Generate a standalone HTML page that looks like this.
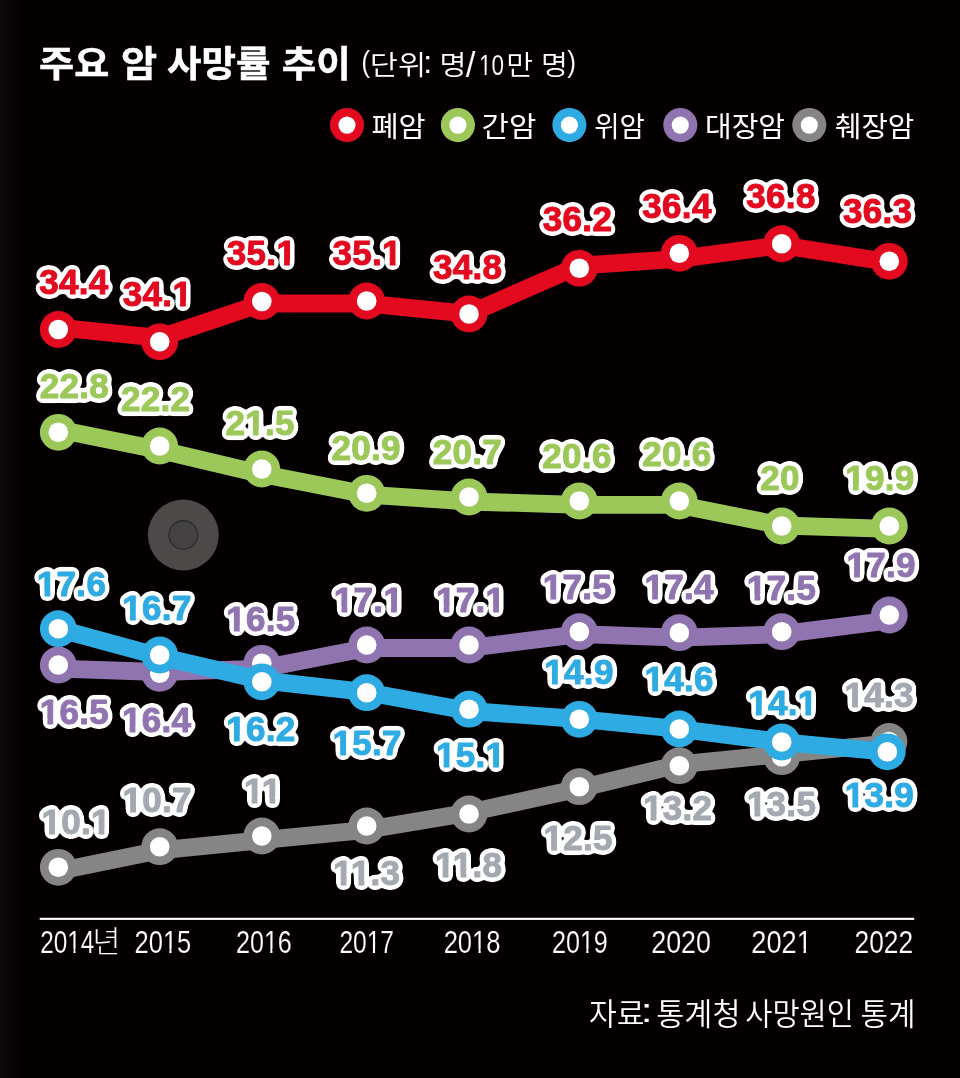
<!DOCTYPE html>
<html lang="ko"><head><meta charset="utf-8"><title>주요 암 사망률 추이</title>
<style>html,body{margin:0;padding:0;background:#040001}svg{display:block}text{white-space:pre}</style></head>
<body>
<svg width="960" height="1078" viewBox="0 0 960 1078">
<defs><linearGradient id="lb" x1="0" x2="1" y1="0" y2="0"><stop offset="0" stop-color="#0c0a0a"/><stop offset="1" stop-color="#040001"/></linearGradient></defs>
<defs><mask id="ft" maskUnits="userSpaceOnUse" x="0" y="0" width="960" height="1078"><rect width="960" height="1078" fill="#fff"/><g fill="#000"><rect x="173.49" y="300.93" width="6.56" height="6.77"/><rect x="185.85" y="300.93" width="6.12" height="6.77"/><rect x="277.49" y="260.43" width="6.56" height="6.77"/><rect x="289.85" y="260.43" width="6.12" height="6.77"/><rect x="383.19" y="260.43" width="6.56" height="6.77"/><rect x="395.55" y="260.43" width="6.12" height="6.77"/><rect x="246.29" y="429.63" width="6.56" height="6.77"/><rect x="258.66" y="429.63" width="6.12" height="6.77"/><rect x="846.24" y="485.43" width="6.56" height="6.77"/><rect x="858.61" y="485.43" width="6.12" height="6.77"/><rect x="37.94" y="590.93" width="6.56" height="6.77"/><rect x="50.31" y="590.93" width="6.12" height="6.77"/><rect x="123.44" y="614.83" width="6.56" height="6.77"/><rect x="135.81" y="614.83" width="6.12" height="6.77"/><rect x="227.34" y="625.63" width="6.56" height="6.77"/><rect x="239.71" y="625.63" width="6.12" height="6.77"/><rect x="40.84" y="718.83" width="6.56" height="6.77"/><rect x="53.21" y="718.83" width="6.12" height="6.77"/><rect x="123.04" y="727.13" width="6.56" height="6.77"/><rect x="135.41" y="727.13" width="6.12" height="6.77"/><rect x="227.34" y="735.53" width="6.56" height="6.77"/><rect x="239.71" y="735.53" width="6.12" height="6.77"/><rect x="334.94" y="606.63" width="6.56" height="6.77"/><rect x="347.31" y="606.63" width="6.12" height="6.77"/><rect x="384.49" y="606.63" width="6.56" height="6.77"/><rect x="396.85" y="606.63" width="6.12" height="6.77"/><rect x="437.04" y="606.63" width="6.56" height="6.77"/><rect x="449.41" y="606.63" width="6.12" height="6.77"/><rect x="486.59" y="606.63" width="6.56" height="6.77"/><rect x="498.95" y="606.63" width="6.12" height="6.77"/><rect x="543.84" y="593.83" width="6.56" height="6.77"/><rect x="556.21" y="593.83" width="6.12" height="6.77"/><rect x="545.44" y="678.83" width="6.56" height="6.77"/><rect x="557.81" y="678.83" width="6.12" height="6.77"/><rect x="333.64" y="750.43" width="6.56" height="6.77"/><rect x="346.01" y="750.43" width="6.12" height="6.77"/><rect x="437.04" y="762.03" width="6.56" height="6.77"/><rect x="449.41" y="762.03" width="6.12" height="6.77"/><rect x="486.59" y="762.03" width="6.56" height="6.77"/><rect x="498.95" y="762.03" width="6.12" height="6.77"/><rect x="645.54" y="593.63" width="6.56" height="6.77"/><rect x="657.91" y="593.63" width="6.12" height="6.77"/><rect x="747.94" y="594.63" width="6.56" height="6.77"/><rect x="760.31" y="594.63" width="6.12" height="6.77"/><rect x="847.54" y="572.23" width="6.56" height="6.77"/><rect x="859.91" y="572.23" width="6.12" height="6.77"/><rect x="645.64" y="685.53" width="6.56" height="6.77"/><rect x="658.01" y="685.53" width="6.12" height="6.77"/><rect x="749.24" y="710.23" width="6.56" height="6.77"/><rect x="761.61" y="710.23" width="6.12" height="6.77"/><rect x="798.79" y="710.23" width="6.56" height="6.77"/><rect x="811.15" y="710.23" width="6.12" height="6.77"/><rect x="845.54" y="701.93" width="6.56" height="6.77"/><rect x="857.91" y="701.93" width="6.12" height="6.77"/><rect x="845.84" y="802.03" width="6.56" height="6.77"/><rect x="858.21" y="802.03" width="6.12" height="6.77"/><rect x="644.04" y="815.23" width="6.56" height="6.77"/><rect x="656.41" y="815.23" width="6.12" height="6.77"/><rect x="747.94" y="810.63" width="6.56" height="6.77"/><rect x="760.31" y="810.63" width="6.12" height="6.77"/><rect x="42.54" y="828.53" width="6.56" height="6.77"/><rect x="54.91" y="828.53" width="6.12" height="6.77"/><rect x="92.09" y="828.53" width="6.56" height="6.77"/><rect x="104.45" y="828.53" width="6.12" height="6.77"/><rect x="123.64" y="806.53" width="6.56" height="6.77"/><rect x="136.01" y="806.53" width="6.12" height="6.77"/><rect x="245.10" y="797.53" width="6.56" height="6.77"/><rect x="257.47" y="797.53" width="6.12" height="6.77"/><rect x="262.93" y="797.53" width="6.56" height="6.77"/><rect x="275.29" y="797.53" width="6.12" height="6.77"/><rect x="334.11" y="880.23" width="6.56" height="6.77"/><rect x="346.48" y="880.23" width="6.12" height="6.77"/><rect x="351.94" y="880.23" width="6.56" height="6.77"/><rect x="364.30" y="880.23" width="6.12" height="6.77"/><rect x="436.11" y="872.43" width="6.56" height="6.77"/><rect x="448.48" y="872.43" width="6.12" height="6.77"/><rect x="453.94" y="872.43" width="6.56" height="6.77"/><rect x="466.30" y="872.43" width="6.12" height="6.77"/><rect x="544.64" y="844.53" width="6.56" height="6.77"/><rect x="557.01" y="844.53" width="6.12" height="6.77"/><rect x="479.50" y="71.38" width="5.14" height="5.55"/><rect x="486.64" y="71.38" width="4.97" height="5.55"/><rect x="67.95" y="948.80" width="5.47" height="5.62"/><rect x="75.57" y="948.80" width="5.28" height="5.62"/><rect x="163.64" y="948.80" width="5.67" height="5.62"/><rect x="171.57" y="948.80" width="5.47" height="5.62"/><rect x="264.61" y="948.80" width="5.61" height="5.62"/><rect x="272.44" y="948.80" width="5.41" height="5.62"/><rect x="367.38" y="948.80" width="5.51" height="5.62"/><rect x="375.06" y="948.80" width="5.32" height="5.62"/><rect x="472.79" y="948.80" width="5.68" height="5.62"/><rect x="480.73" y="948.80" width="5.48" height="5.62"/><rect x="580.61" y="948.80" width="5.61" height="5.62"/><rect x="588.44" y="948.80" width="5.41" height="5.62"/><rect x="797.54" y="948.80" width="5.97" height="5.62"/><rect x="805.92" y="948.80" width="5.76" height="5.62"/></g></mask></defs>
<rect width="960" height="1078" fill="#040001"/><rect width="24" height="1078" fill="url(#lb)"/>
<circle cx="183.3" cy="535" r="35.5" fill="#4c4a49"/><circle cx="183.3" cy="535" r="14.4" fill="#434142" stroke="#2b292a" stroke-width="1.2"/>
<rect x="39.7" y="917.8" width="874.5" height="2.1" fill="#fff"/>
<g><polyline fill="none" stroke="#e3091f" stroke-width="17.8" stroke-linejoin="round" stroke-linecap="round" points="58.3,327.5 159.7,337.8 261.8,303.5 366.7,303.5 469.0,313.8 579.3,265.7 679.3,258.9 781.7,245.2 889.3,262.3"/>
<circle cx="58.3" cy="329.5" r="18.4" fill="#e3091f"/><circle cx="58.3" cy="329.5" r="9.8" fill="#fff"/>
<circle cx="159.7" cy="341.8" r="18.4" fill="#e3091f"/><circle cx="159.7" cy="341.8" r="9.8" fill="#fff"/>
<circle cx="261.8" cy="301.5" r="18.4" fill="#e3091f"/><circle cx="261.8" cy="301.5" r="9.8" fill="#fff"/>
<circle cx="366.7" cy="301.0" r="18.4" fill="#e3091f"/><circle cx="366.7" cy="301.0" r="9.8" fill="#fff"/>
<circle cx="469.0" cy="314.0" r="18.4" fill="#e3091f"/><circle cx="469.0" cy="314.0" r="9.8" fill="#fff"/>
<circle cx="579.3" cy="268.3" r="18.4" fill="#e3091f"/><circle cx="579.3" cy="268.3" r="9.8" fill="#fff"/>
<circle cx="679.3" cy="253.3" r="18.4" fill="#e3091f"/><circle cx="679.3" cy="253.3" r="9.8" fill="#fff"/>
<circle cx="781.7" cy="243.7" r="18.4" fill="#e3091f"/><circle cx="781.7" cy="243.7" r="9.8" fill="#fff"/>
<circle cx="889.3" cy="261.3" r="18.4" fill="#e3091f"/><circle cx="889.3" cy="261.3" r="9.8" fill="#fff"/>
</g>
<g><polyline fill="none" stroke="#9cc85a" stroke-width="17.8" stroke-linejoin="round" stroke-linecap="round" points="58.3,429.5 159.7,450.0 261.8,474.1 366.7,494.6 469.0,501.5 579.3,504.9 679.3,504.9 781.7,525.5 889.3,528.9"/>
<circle cx="58.3" cy="432.3" r="18.4" fill="#9cc85a"/><circle cx="58.3" cy="432.3" r="9.8" fill="#fff"/>
<circle cx="159.7" cy="446.0" r="18.4" fill="#9cc85a"/><circle cx="159.7" cy="446.0" r="9.8" fill="#fff"/>
<circle cx="261.8" cy="469.0" r="18.4" fill="#9cc85a"/><circle cx="261.8" cy="469.0" r="9.8" fill="#fff"/>
<circle cx="366.7" cy="493.3" r="18.4" fill="#9cc85a"/><circle cx="366.7" cy="493.3" r="9.8" fill="#fff"/>
<circle cx="469.0" cy="497.0" r="18.4" fill="#9cc85a"/><circle cx="469.0" cy="497.0" r="9.8" fill="#fff"/>
<circle cx="579.3" cy="501.0" r="18.4" fill="#9cc85a"/><circle cx="579.3" cy="501.0" r="9.8" fill="#fff"/>
<circle cx="679.3" cy="501.0" r="18.4" fill="#9cc85a"/><circle cx="679.3" cy="501.0" r="9.8" fill="#fff"/>
<circle cx="781.7" cy="526.0" r="18.4" fill="#9cc85a"/><circle cx="781.7" cy="526.0" r="9.8" fill="#fff"/>
<circle cx="889.3" cy="526.0" r="18.4" fill="#9cc85a"/><circle cx="889.3" cy="526.0" r="9.8" fill="#fff"/>
</g>
<g><polyline fill="none" stroke="#858585" stroke-width="17.8" stroke-linejoin="round" stroke-linecap="round" points="58.3,871.1 159.7,850.4 261.8,840.1 366.7,829.8 469.0,812.6 579.3,788.5 679.3,764.4 781.7,754.1 889.0,743.4"/>
<circle cx="58.3" cy="867.3" r="18.4" fill="#858585"/><circle cx="58.3" cy="867.3" r="9.8" fill="#fff"/>
<circle cx="159.7" cy="846.7" r="18.4" fill="#858585"/><circle cx="159.7" cy="846.7" r="9.8" fill="#fff"/>
<circle cx="261.8" cy="836.0" r="18.4" fill="#858585"/><circle cx="261.8" cy="836.0" r="9.8" fill="#fff"/>
<circle cx="366.7" cy="826.0" r="18.4" fill="#858585"/><circle cx="366.7" cy="826.0" r="9.8" fill="#fff"/>
<circle cx="469.0" cy="814.0" r="18.4" fill="#858585"/><circle cx="469.0" cy="814.0" r="9.8" fill="#fff"/>
<circle cx="579.3" cy="786.7" r="18.4" fill="#858585"/><circle cx="579.3" cy="786.7" r="9.8" fill="#fff"/>
<circle cx="679.3" cy="765.7" r="18.4" fill="#858585"/><circle cx="679.3" cy="765.7" r="9.8" fill="#fff"/>
<circle cx="781.7" cy="756.7" r="18.4" fill="#858585"/><circle cx="781.7" cy="756.7" r="9.8" fill="#fff"/>
<circle cx="889.0" cy="741.5" r="18.4" fill="#858585"/><circle cx="889.0" cy="741.5" r="9.8" fill="#fff"/>
</g>
<g><polyline fill="none" stroke="#9074b0" stroke-width="17.8" stroke-linejoin="round" stroke-linecap="round" points="58.3,668.6 159.7,672.0 261.8,668.6 366.7,648.0 469.0,648.0 579.3,634.2 679.3,637.7 781.7,634.2 889.3,620.5"/>
<circle cx="58.3" cy="665.0" r="18.4" fill="#9074b0"/><circle cx="58.3" cy="665.0" r="9.8" fill="#fff"/>
<circle cx="159.7" cy="673.3" r="18.4" fill="#9074b0"/><circle cx="159.7" cy="673.3" r="9.8" fill="#fff"/>
<circle cx="261.8" cy="663.3" r="18.4" fill="#9074b0"/><circle cx="261.8" cy="663.3" r="9.8" fill="#fff"/>
<circle cx="366.7" cy="645.0" r="18.4" fill="#9074b0"/><circle cx="366.7" cy="645.0" r="9.8" fill="#fff"/>
<circle cx="469.0" cy="645.0" r="18.4" fill="#9074b0"/><circle cx="469.0" cy="645.0" r="9.8" fill="#fff"/>
<circle cx="579.3" cy="631.7" r="18.4" fill="#9074b0"/><circle cx="579.3" cy="631.7" r="9.8" fill="#fff"/>
<circle cx="679.3" cy="632.7" r="18.4" fill="#9074b0"/><circle cx="679.3" cy="632.7" r="9.8" fill="#fff"/>
<circle cx="781.7" cy="631.7" r="18.4" fill="#9074b0"/><circle cx="781.7" cy="631.7" r="9.8" fill="#fff"/>
<circle cx="889.3" cy="615.0" r="18.4" fill="#9074b0"/><circle cx="889.3" cy="615.0" r="9.8" fill="#fff"/>
</g>
<g><polyline fill="none" stroke="#2eabe2" stroke-width="17.8" stroke-linejoin="round" stroke-linecap="round" points="58.3,628.8 159.7,656.5 261.8,680.3 366.7,692.2 469.0,711.0 579.3,719.0 679.3,729.0 781.7,742.0 887.3,752.0"/>
<circle cx="58.3" cy="628.7" r="18.4" fill="#2eabe2"/><circle cx="58.3" cy="628.7" r="9.8" fill="#fff"/>
<circle cx="159.7" cy="655.0" r="18.4" fill="#2eabe2"/><circle cx="159.7" cy="655.0" r="9.8" fill="#fff"/>
<circle cx="261.8" cy="681.8" r="18.4" fill="#2eabe2"/><circle cx="261.8" cy="681.8" r="9.8" fill="#fff"/>
<circle cx="366.7" cy="692.7" r="18.4" fill="#2eabe2"/><circle cx="366.7" cy="692.7" r="9.8" fill="#fff"/>
<circle cx="469.0" cy="709.2" r="18.4" fill="#2eabe2"/><circle cx="469.0" cy="709.2" r="9.8" fill="#fff"/>
<circle cx="579.3" cy="719.3" r="18.4" fill="#2eabe2"/><circle cx="579.3" cy="719.3" r="9.8" fill="#fff"/>
<circle cx="679.3" cy="729.0" r="18.4" fill="#2eabe2"/><circle cx="679.3" cy="729.0" r="9.8" fill="#fff"/>
<circle cx="781.7" cy="742.0" r="18.4" fill="#2eabe2"/><circle cx="781.7" cy="742.0" r="9.8" fill="#fff"/>
<circle cx="887.3" cy="751.8" r="18.4" fill="#2eabe2"/><circle cx="887.3" cy="751.8" r="9.8" fill="#fff"/>
</g>
<defs><filter id="ol" x="-5%" y="-5%" width="110%" height="110%" color-interpolation-filters="sRGB"><feGaussianBlur in="SourceAlpha" stdDeviation="2.9"/><feComponentTransfer><feFuncA type="linear" slope="40" intercept="-0.7"/></feComponentTransfer><feColorMatrix type="matrix" values="0 0 0 0 1  0 0 0 0 1  0 0 0 0 1  0 0 0 1 0" result="w"/><feMerge><feMergeNode in="w"/><feMergeNode in="SourceGraphic"/></feMerge></filter></defs>
<g filter="url(#ol)"><g mask="url(#ft)" style='font-family:"Liberation Sans", sans-serif;font-weight:700;font-size:35px;letter-spacing:0.3px' text-anchor="middle" stroke-width="1.0">
<text x="73.8" y="294.0" fill="#e3091f" stroke="#e3091f">34.4</text>
<text x="157.5" y="305.9" fill="#e3091f" stroke="#e3091f">34.1</text>
<text x="261.5" y="265.4" fill="#e3091f" stroke="#e3091f">35.1</text>
<text x="367.2" y="265.4" fill="#e3091f" stroke="#e3091f">35.1</text>
<text x="467.6" y="278.6" fill="#e3091f" stroke="#e3091f">34.8</text>
<text x="577.5" y="230.9" fill="#e3091f" stroke="#e3091f">36.2</text>
<text x="677.0" y="218.1" fill="#e3091f" stroke="#e3091f">36.4</text>
<text x="781.0" y="208.4" fill="#e3091f" stroke="#e3091f">36.8</text>
<text x="877.6" y="223.4" fill="#e3091f" stroke="#e3091f">36.3</text>
<text x="74.3" y="398.2" fill="#9cc85a" stroke="#9cc85a">22.8</text>
<text x="155.7" y="410.8" fill="#9cc85a" stroke="#9cc85a">22.2</text>
<text x="260.1" y="434.6" fill="#9cc85a" stroke="#9cc85a">21.5</text>
<text x="366.1" y="459.8" fill="#9cc85a" stroke="#9cc85a">20.9</text>
<text x="467.4" y="464.0" fill="#9cc85a" stroke="#9cc85a">20.7</text>
<text x="577.0" y="467.7" fill="#9cc85a" stroke="#9cc85a">20.6</text>
<text x="676.8" y="466.1" fill="#9cc85a" stroke="#9cc85a">20.6</text>
<text x="780.1" y="490.0" fill="#9cc85a" stroke="#9cc85a">20</text>
<text x="879.8" y="490.4" fill="#9cc85a" stroke="#9cc85a">19.9</text>
<text x="71.5" y="595.9" fill="#2eabe2" stroke="#2eabe2">17.6</text>
<text x="157.0" y="619.8" fill="#2eabe2" stroke="#2eabe2">16.7</text>
<text x="260.9" y="630.6" fill="#9074b0" stroke="#9074b0">16.5</text>
<text x="74.4" y="723.8" fill="#9074b0" stroke="#9074b0">16.5</text>
<text x="156.6" y="732.1" fill="#9074b0" stroke="#9074b0">16.4</text>
<text x="260.9" y="740.5" fill="#2eabe2" stroke="#2eabe2">16.2</text>
<text x="368.5" y="611.6" fill="#9074b0" stroke="#9074b0">17.1</text>
<text x="470.6" y="611.6" fill="#9074b0" stroke="#9074b0">17.1</text>
<text x="577.4" y="598.8" fill="#9074b0" stroke="#9074b0">17.5</text>
<text x="579.0" y="683.8" fill="#2eabe2" stroke="#2eabe2">14.9</text>
<text x="367.2" y="755.4" fill="#2eabe2" stroke="#2eabe2">15.7</text>
<text x="470.6" y="767.0" fill="#2eabe2" stroke="#2eabe2">15.1</text>
<text x="679.1" y="598.6" fill="#9074b0" stroke="#9074b0">17.4</text>
<text x="781.5" y="599.6" fill="#9074b0" stroke="#9074b0">17.5</text>
<text x="881.1" y="577.2" fill="#9074b0" stroke="#9074b0">17.9</text>
<text x="679.2" y="690.5" fill="#2eabe2" stroke="#2eabe2">14.6</text>
<text x="782.8" y="715.2" fill="#2eabe2" stroke="#2eabe2">14.1</text>
<text x="879.1" y="706.9" fill="#a4a8b1" stroke="#a4a8b1">14.3</text>
<text x="879.4" y="807.0" fill="#2eabe2" stroke="#2eabe2">13.9</text>
<text x="677.6" y="820.2" fill="#a4a8b1" stroke="#a4a8b1">13.2</text>
<text x="781.5" y="815.6" fill="#a4a8b1" stroke="#a4a8b1">13.5</text>
<text x="76.1" y="833.5" fill="#a4a8b1" stroke="#a4a8b1">10.1</text>
<text x="157.2" y="811.5" fill="#a4a8b1" stroke="#a4a8b1">10.7</text>
<text x="262.8" y="802.5" fill="#a4a8b1" stroke="#a4a8b1">11</text>
<text x="366.7" y="885.2" fill="#a4a8b1" stroke="#a4a8b1">11.3</text>
<text x="468.7" y="877.4" fill="#a4a8b1" stroke="#a4a8b1">11.8</text>
<text x="578.2" y="849.5" fill="#a4a8b1" stroke="#a4a8b1">12.5</text>
</g></g>
<circle cx="347" cy="125.1" r="17.05" fill="#e3091f"/><circle cx="347" cy="125.1" r="8.6" fill="#fff"/>
<circle cx="457.9" cy="125.1" r="17.05" fill="#9cc85a"/><circle cx="457.9" cy="125.1" r="8.6" fill="#fff"/>
<circle cx="569.4" cy="125.1" r="17.05" fill="#2eabe2"/><circle cx="569.4" cy="125.1" r="8.6" fill="#fff"/>
<circle cx="680.3" cy="125.1" r="17.05" fill="#9074b0"/><circle cx="680.3" cy="125.1" r="8.6" fill="#fff"/>
<circle cx="809.3" cy="125.1" r="17.05" fill="#858585"/><circle cx="809.3" cy="125.1" r="8.6" fill="#fff"/>
<text fill="#fff"><tspan x="39.11" y="77.00" textLength="70.24" lengthAdjust="spacingAndGlyphs" stroke="#fff" stroke-width="0.5" style='font-family:"Liberation Sans", "Noto Sans CJK KR", sans-serif;font-weight:700;font-size:36.60px'>주요</tspan> <tspan x="120.99" y="77.00" textLength="36.14" lengthAdjust="spacingAndGlyphs" stroke="#fff" stroke-width="0.5" style='font-family:"Liberation Sans", "Noto Sans CJK KR", sans-serif;font-weight:700;font-size:36.60px'>암</tspan> <tspan x="167.02" y="77.00" textLength="103.55" lengthAdjust="spacingAndGlyphs" stroke="#fff" stroke-width="0.5" style='font-family:"Liberation Sans", "Noto Sans CJK KR", sans-serif;font-weight:700;font-size:36.60px'>사망률</tspan> <tspan x="281.73" y="77.00" textLength="69.10" lengthAdjust="spacingAndGlyphs" stroke="#fff" stroke-width="0.5" style='font-family:"Liberation Sans", "Noto Sans CJK KR", sans-serif;font-weight:700;font-size:36.60px'>추이</tspan></text>
<text fill="#fff" mask="url(#ft)"><tspan x="361.25" y="72.02" textLength="8.82" lengthAdjust="spacingAndGlyphs" stroke="#040001" stroke-width="0.15" style='font-family:"Liberation Sans", sans-serif;font-weight:400;font-size:29.62px'>(</tspan><tspan x="369.88" y="74.69" textLength="56.49" lengthAdjust="spacingAndGlyphs" style='font-family:"Liberation Sans", "Noto Sans CJK KR", sans-serif;font-weight:350;font-size:27.45px'>단위</tspan><tspan x="423.15" y="73.10" style='font-family:"Liberation Sans", sans-serif;font-weight:400;font-size:31.99px'>:</tspan> <tspan x="439.64" y="74.69" textLength="26.93" lengthAdjust="spacingAndGlyphs" style='font-family:"Liberation Sans", "Noto Sans CJK KR", sans-serif;font-weight:350;font-size:27.45px'>명</tspan><tspan x="465.80" y="76.59" stroke="#040001" stroke-width="0.15" style='font-family:"Liberation Sans", sans-serif;font-weight:400;font-size:35.03px'>/</tspan><tspan x="478.99" y="75.33" textLength="25.02" lengthAdjust="spacingAndGlyphs" stroke="#040001" stroke-width="0.15" style='font-family:"Liberation Sans", sans-serif;font-weight:400;font-size:30.06px'>10</tspan><tspan x="506.15" y="74.69" textLength="26.80" lengthAdjust="spacingAndGlyphs" style='font-family:"Liberation Sans", "Noto Sans CJK KR", sans-serif;font-weight:350;font-size:27.45px'>만</tspan> <tspan x="541.14" y="74.69" textLength="26.93" lengthAdjust="spacingAndGlyphs" style='font-family:"Liberation Sans", "Noto Sans CJK KR", sans-serif;font-weight:350;font-size:27.45px'>명</tspan><tspan x="567.26" y="72.02" textLength="8.89" lengthAdjust="spacingAndGlyphs" stroke="#040001" stroke-width="0.15" style='font-family:"Liberation Sans", sans-serif;font-weight:400;font-size:29.62px'>)</tspan></text>
<text fill="#fff"><tspan x="371.45" y="136.68" textLength="54.31" lengthAdjust="spacingAndGlyphs" style='font-family:"Liberation Sans", "Noto Sans CJK KR", sans-serif;font-weight:400;font-size:28.92px'>폐암</tspan></text>
<text fill="#fff"><tspan x="481.61" y="136.68" textLength="54.76" lengthAdjust="spacingAndGlyphs" style='font-family:"Liberation Sans", "Noto Sans CJK KR", sans-serif;font-weight:400;font-size:28.92px'>간암</tspan></text>
<text fill="#fff"><tspan x="594.27" y="136.68" textLength="50.72" lengthAdjust="spacingAndGlyphs" style='font-family:"Liberation Sans", "Noto Sans CJK KR", sans-serif;font-weight:400;font-size:28.92px'>위암</tspan></text>
<text fill="#fff"><tspan x="704.97" y="136.68" textLength="80.07" lengthAdjust="spacingAndGlyphs" style='font-family:"Liberation Sans", "Noto Sans CJK KR", sans-serif;font-weight:400;font-size:28.92px'>대장암</tspan></text>
<text fill="#fff"><tspan x="834.97" y="136.68" textLength="79.35" lengthAdjust="spacingAndGlyphs" style='font-family:"Liberation Sans", "Noto Sans CJK KR", sans-serif;font-weight:400;font-size:28.92px'>췌장암</tspan></text>
<text fill="#fff" mask="url(#ft)"><tspan x="40.20" y="952.82" textLength="54.20" lengthAdjust="spacingAndGlyphs" stroke="#040001" stroke-width="0.15" style='font-family:"Liberation Sans", sans-serif;font-weight:400;font-size:31.05px'>2014</tspan><tspan x="92.54" y="952.09" textLength="28.00" lengthAdjust="spacingAndGlyphs" style='font-family:"Liberation Sans", "Noto Sans CJK KR", sans-serif;font-weight:300;font-size:29.37px'>년</tspan></text>
<text fill="#fff" mask="url(#ft)"><tspan x="134.53" y="952.82" textLength="56.75" lengthAdjust="spacingAndGlyphs" stroke="#040001" stroke-width="0.15" style='font-family:"Liberation Sans", sans-serif;font-weight:400;font-size:31.05px'>2015</tspan></text>
<text fill="#fff" mask="url(#ft)"><tspan x="235.95" y="952.82" textLength="55.91" lengthAdjust="spacingAndGlyphs" stroke="#040001" stroke-width="0.15" style='font-family:"Liberation Sans", sans-serif;font-weight:400;font-size:31.05px'>2016</tspan></text>
<text fill="#fff" mask="url(#ft)"><tspan x="339.38" y="952.82" textLength="54.67" lengthAdjust="spacingAndGlyphs" stroke="#040001" stroke-width="0.15" style='font-family:"Liberation Sans", sans-serif;font-weight:400;font-size:31.05px'>2017</tspan></text>
<text fill="#fff" mask="url(#ft)"><tspan x="443.63" y="952.82" textLength="56.85" lengthAdjust="spacingAndGlyphs" stroke="#040001" stroke-width="0.15" style='font-family:"Liberation Sans", sans-serif;font-weight:400;font-size:31.05px'>2018</tspan></text>
<text fill="#fff" mask="url(#ft)"><tspan x="551.95" y="952.82" textLength="55.91" lengthAdjust="spacingAndGlyphs" stroke="#040001" stroke-width="0.15" style='font-family:"Liberation Sans", sans-serif;font-weight:400;font-size:31.05px'>2019</tspan></text>
<text fill="#fff" mask="url(#ft)"><tspan x="651.26" y="952.82" textLength="59.74" lengthAdjust="spacingAndGlyphs" stroke="#040001" stroke-width="0.15" style='font-family:"Liberation Sans", sans-serif;font-weight:400;font-size:31.05px'>2020</tspan></text>
<text fill="#fff" mask="url(#ft)"><tspan x="751.24" y="952.82" textLength="60.58" lengthAdjust="spacingAndGlyphs" stroke="#040001" stroke-width="0.15" style='font-family:"Liberation Sans", sans-serif;font-weight:400;font-size:31.05px'>2021</tspan></text>
<text fill="#fff" mask="url(#ft)"><tspan x="854.59" y="952.82" textLength="58.56" lengthAdjust="spacingAndGlyphs" stroke="#040001" stroke-width="0.15" style='font-family:"Liberation Sans", sans-serif;font-weight:400;font-size:31.05px'>2022</tspan></text>
<text fill="#fff"><tspan x="588.95" y="1024.67" textLength="55.58" lengthAdjust="spacingAndGlyphs" style='font-family:"Liberation Sans", "Noto Sans CJK KR", sans-serif;font-weight:350;font-size:30.23px'>자료</tspan><tspan x="640.83" y="1022.10" textLength="11.74" lengthAdjust="spacingAndGlyphs" style='font-family:"Liberation Sans", sans-serif;font-weight:400;font-size:32.84px'>:</tspan> <tspan x="656.26" y="1024.67" textLength="84.26" lengthAdjust="spacingAndGlyphs" style='font-family:"Liberation Sans", "Noto Sans CJK KR", sans-serif;font-weight:350;font-size:30.23px'>통계청</tspan> <tspan x="745.28" y="1024.67" textLength="108.60" lengthAdjust="spacingAndGlyphs" style='font-family:"Liberation Sans", "Noto Sans CJK KR", sans-serif;font-weight:350;font-size:30.23px'>사망원인</tspan> <tspan x="860.40" y="1024.67" textLength="55.02" lengthAdjust="spacingAndGlyphs" style='font-family:"Liberation Sans", "Noto Sans CJK KR", sans-serif;font-weight:350;font-size:30.23px'>통계</tspan></text>
</svg>
</body></html>
